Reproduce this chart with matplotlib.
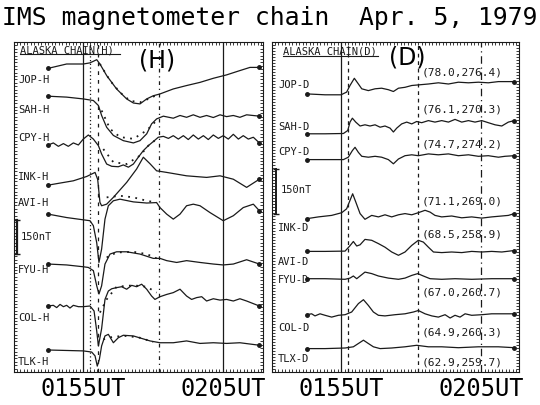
import matplotlib
matplotlib.use('Agg')
import matplotlib.pyplot as plt
from matplotlib.ticker import MultipleLocator

# time axis: minutes after 0155 UT ; values: nT deflection from the start of each trace

# ---------------- H component (left panel) ----------------
jop_h_t = [-2.48, -1.17, 0.02, 0.5, 0.98, 1.21, 1.69, 2.4, 3.12, 3.6, 4.07, 4.55, 5.02, 5.5, 6.45, 7.4, 8.36, 9.31, 10.26, 11.21, 11.93, 12.6]
jop_h_v = [0, 19, 19, 24, 38, 19, -32, -91, -135, -153, -157, -135, -121, -113, -91, -76, -62, -44, -29, -10, 4, 4]

sah_h_t = [-2.48, -1.17, 0.02, 0.74, 1.1, 1.33, 1.69, 2.17, 2.88, 3.6, 4.07, 4.55, 4.9, 5.26, 5.74, 6.45, 6.93, 7.4, 7.88, 8.36, 8.83, 9.31, 9.79, 10.26, 10.74, 11.21, 11.69, 12.6]
sah_h_v = [0, -4, -12, -19, -41, -85, -137, -173, -196, -206, -196, -166, -122, -100, -88, -97, -85, -93, -82, -93, -85, -94, -82, -90, -85, -93, -82, -88]

cpy_h_t = [-2.48, -2.12, -1.76, -1.4, -1.05, -0.69, -0.33, 0.02, 0.38, 0.74, 1.1, 1.33, 1.69, 2.05, 2.52, 2.88, 3.24, 3.6, 3.95, 4.31, 4.67, 5.02, 5.38, 5.74, 6.1, 6.45, 6.81, 7.17, 7.52, 7.88, 8.24, 8.6, 8.95, 9.31, 9.67, 10.02, 10.38, 10.74, 11.1, 11.45, 11.81, 12.17, 12.6]
cpy_h_v = [0, 9, -6, 6, -6, 9, 0, 26, 44, 26, -3, -40, -84, -94, -96, -88, -98, -84, -54, -25, -3, 15, 34, 38, 29, 41, 26, 41, 24, 44, 26, 41, 24, 44, 29, 41, 26, 47, 26, 41, 26, 34, 9]

ink_h_t = [-2.48, -1.64, -0.69, 0.26, 0.86, 1.05, 1.21, 1.33, 1.69, 2.17, 3.12, 3.83, 4.31, 4.79, 5.26, 5.98, 7.4, 8.83, 9.79, 10.74, 11.69, 12.6]
ink_h_v = [0, 9, 19, 38, 56, 25, -76, -91, -84, -54, 12, 71, 123, 94, 63, 56, 41, 34, 41, 26, -10, 26]

avi_h_t = [-2.48, -1.17, 0.02, 0.5, 0.74, 0.98, 1.14, 1.33, 1.57, 1.81, 2.17, 2.64, 3.6, 4.55, 5.26, 5.5, 5.98, 6.45, 6.93, 7.4, 7.88, 8.36, 9.07, 10.02, 10.74, 11.45, 12.17, 12.6]
avi_h_v = [0, -15, -25, -29, -51, -126, -213, -154, -22, 37, 59, 66, 54, 49, 51, 29, 0, -22, 0, 37, 44, 37, 7, -29, -7, 29, 44, 15]

fyu_h_t = [-2.48, -1.17, 0.02, 0.38, 0.74, 0.98, 1.14, 1.33, 1.57, 1.93, 2.4, 3.12, 4.07, 5.02, 5.5, 5.98, 6.69, 7.4, 8.36, 9.31, 10.02, 10.74, 11.69, 12.6]
fyu_h_v = [0, -4, -12, -15, -29, -96, -132, -96, 0, 44, 54, 54, 44, 25, 25, 15, 7, 15, 7, 0, -4, 0, 19, 0]

col_h_t = [-2.48, -2.12, -1.88, -1.64, -1.4, -1.17, -0.93, -0.69, -0.33, 0.02, 0.5, 0.79, 0.98, 1.1, 1.33, 1.57, 1.81, 2.05, 2.4, 2.76, 3.12, 3.48, 3.83, 4.19, 4.55, 4.9, 5.14, 5.5, 5.98, 6.45, 6.93, 7.4, 7.76, 8.12, 8.48, 8.83, 9.31, 9.79, 10.26, 10.74, 11.21, 11.69, 12.6]
col_h_v = [0, 3, -7, 7, -3, 3, -9, 3, -3, -3, 0, -22, -110, -176, -100, 29, 66, 76, 81, 85, 74, 91, 85, 96, 74, 44, 29, 41, 51, 59, 74, 44, 29, 37, 41, 22, 32, 26, 29, 22, 32, 22, 0]

tlk_h_t = [-2.48, 0.02, 0.62, 0.86, 1.02, 1.17, 1.33, 1.57, 1.81, 2.17, 2.52, 2.88, 3.6, 4.79, 5.5, 6.45, 7.4, 8.36, 9.31, 10.26, 11.21, 12.6]
tlk_h_v = [0, -4, -9, -26, -71, -41, 18, 62, 69, 32, 54, 65, 62, 40, 32, 32, 40, 29, 32, 29, 32, 21]

# dotted curves drawn over the H traces
jop_h_dot_t = [1.21, 1.93, 2.64, 3.36, 4.07, 4.79, 5.26]
jop_h_dot_v = [19, -54, -106, -143, -150, -132, -118]
sah_h_dot_t = [1.33, 1.93, 2.64, 3.6, 4.55, 5.26]
sah_h_dot_v = [-63, -144, -180, -188, -151, -107]
cpy_h_dot_t = [1.45, 2.17, 3.12, 4.07, 4.67, 5.26]
cpy_h_dot_v = [-18, -76, -84, -47, -3, 26]
avi_h_dot_t = [1.69, 2.64, 3.6, 4.55, 5.26]
avi_h_dot_v = [74, 81, 74, 59, 51]
fyu_h_dot_t = [1.69, 2.4, 3.6, 4.55, 5.26]
fyu_h_dot_v = [29, 51, 54, 44, 25]
col_h_dot_t = [1.21, 1.69, 2.4, 3.6, 4.55, 5.26]
col_h_dot_v = [-29, 29, 85, 91, 85, 59]
tlk_h_dot_t = [1.45, 2.17, 3.12, 4.07, 5.02]
tlk_h_dot_v = [47, 59, 62, 54, 35]

h_names = ['JOP-H', 'SAH-H', 'CPY-H', 'INK-H', 'AVI-H', 'FYU-H', 'COL-H', 'TLK-H']
h_base = [-116, -239, -454, -631, -759, -979, -1164, -1358]
h_marks = [0, 0.5, 1.1, 5.4, 10]

# ---------------- D component (right panel) ----------------
jop_d_t = [-2.45, -1.14, 0, 0.4, 0.64, 0.95, 1.24, 1.48, 1.95, 2.43, 2.9, 3.38, 3.74, 4.1, 4.57, 5.05, 5.52, 6.24, 6.95, 7.67, 8.38, 9.1, 9.81, 10.52, 11.24, 12.38]
jop_d_v = [0, -3, -3, 6, 28, 52, 33, 17, 11, 17, 19, 14, 8, 19, 22, 28, 30, 33, 37, 33, 39, 37, 39, 37, 41, 41]

sah_d_t = [-2.45, -1.14, 0.17, 0.48, 0.64, 0.81, 1.05, 1.36, 1.71, 2.07, 2.43, 2.79, 3.14, 3.5, 3.74, 3.98, 4.33, 4.69, 5.05, 5.4, 5.76, 6.24, 6.71, 7.19, 7.67, 8.14, 8.62, 9.1, 9.57, 10.05, 10.52, 11.0, 11.48, 11.95, 12.38]
sah_d_v = [0, 0, 1, 11, 39, 52, 39, 26, 30, 26, 30, 22, 26, 19, 6, 19, 33, 39, 33, 41, 37, 44, 39, 44, 39, 48, 39, 44, 39, 44, 37, 30, 26, 39, 44]

cpy_d_t = [-2.45, -1.14, 0.17, 0.52, 0.81, 1.0, 1.24, 1.48, 1.95, 2.43, 2.9, 3.38, 3.74, 4.1, 4.57, 5.05, 5.52, 6.24, 6.95, 7.67, 8.38, 9.1, 9.81, 10.52, 11.24, 11.71, 12.38]
cpy_d_v = [0, 0, 0, 8, 30, 41, 24, 11, 8, 11, 8, 0, -14, 2, 13, 16, 13, 19, 16, 19, 13, 16, 11, 13, 8, 11, 13]

ink_d_t = [-2.45, -1.62, -0.67, 0.05, 0.4, 0.64, 0.83, 1.05, 1.36, 1.71, 2.19, 2.67, 3.14, 3.62, 4.1, 4.57, 5.05, 5.52, 6.0, 6.36, 6.71, 7.19, 7.9, 8.62, 9.33, 10.05, 10.76, 11.48, 11.95, 12.38]
ink_d_v = [0, 6, 11, 20, 33, 61, 83, 56, 17, -2, 11, 6, 13, 6, 13, 17, 13, 20, 28, 22, 11, 6, 9, 3, 6, 2, 6, 9, 11, 17]

avi_d_t = [-2.45, -1.14, 0.29, 0.64, 0.88, 1.12, 1.36, 1.71, 2.19, 2.67, 3.14, 3.62, 4.1, 4.57, 5.05, 5.52, 5.88, 6.24, 6.6, 7.19, 7.9, 8.62, 9.33, 10.05, 10.76, 11.48, 12.38]
avi_d_v = [0, 0, 1, 19, 33, 18, 22, 40, 37, 26, 14, -2, -13, -2, 20, 37, 31, 14, -2, -4, -2, -4, 0, -2, 0, -2, 3]

fyu_d_t = [-2.45, -1.14, 0.29, 0.64, 0.88, 1.12, 1.36, 1.71, 2.19, 2.67, 3.38, 4.1, 4.57, 5.05, 5.48, 5.88, 6.36, 7.19, 8.14, 9.33, 10.76, 12.38]
fyu_d_v = [0, 0, -2, 2, 9, 0, 9, 22, 17, 9, 2, -2, 2, 11, 17, 9, 0, -2, 0, -2, 0, 0]

col_d_t = [-2.45, -2.1, -1.86, -1.5, -1.14, -0.67, -0.19, 0.29, 0.76, 1.24, 1.6, 1.95, 2.31, 2.67, 3.14, 3.86, 4.57, 5.17, 5.52, 6.0, 6.48, 6.95, 7.43, 7.79, 8.14, 8.5, 8.86, 9.33, 10.05, 10.76, 11.48, 12.38]
col_d_v = [0, 3, -4, 3, -2, -8, -2, 0, 9, 37, 50, 31, 9, -2, -4, 0, 3, 9, 14, 3, -4, -8, 0, -11, -2, -8, 3, -2, 0, 3, 3, 3]

tlx_d_t = [-2.45, -1.14, 0.29, 0.88, 1.24, 1.6, 1.95, 2.31, 2.79, 3.62, 4.57, 5.4, 6.24, 7.19, 8.38, 9.81, 11.24, 12.38]
tlx_d_v = [0, 0, 2, 6, 17, 28, 17, 6, 0, 2, 6, 11, 6, 6, 3, 6, 6, 3]

d_names = ['JOP-D', 'SAH-D', 'CPY-D', 'INK-D', 'AVI-D', 'FYU-D', 'COL-D', 'TLX-D']
d_base = [-173, -306, -392, -589, -698, -789, -909, -1022]
d_coords = ['(78.0,276.4)', '(76.1,270.3)', '(74.7,274.2)', '(71.1,269.0)',
            '(68.5,258.9)', '(67.0,260.7)', '(64.9,260.3)', '(62.9,259.7)']
d_marks = [0, 0.5, 5.5, 10]

time_labels = ['0155UT', '0205UT']

# ---------------- layout (not data) ----------------
h_label_y = [-163, -295, -419, -591, -706, -1001, -1213, -1407]
d_label_y = [-140, -280, -363, -616, -729, -789, -949, -1052]
d_coord_y = [-97, -223, -340, -529, -639, -833, -966, -1066]

MONO = 'DejaVu Sans Mono'
INK = '#1a1a1a'

fig = plt.figure(figsize=(5.4, 4.06), dpi=100)
fig.patch.set_facecolor('white')

ax_h = fig.add_axes([14 / 540, 1 - 373 / 406, 249 / 540, 330 / 406])
ax_d = fig.add_axes([272 / 540, 1 - 373 / 406, 247 / 540, 330 / 406])
ax_h.set_xlim(-4.93, 12.86)
ax_h.set_ylim(-1455, 0)
ax_d.set_xlim(-4.93, 12.71)
ax_d.set_ylim(-1100, 0)


def ruler(ax, ystep):
    # ruler-like frame with little ticks all round
    ax.set_xticks([0, 10], time_labels)
    ax.set_yticks([])
    ax.xaxis.set_minor_locator(MultipleLocator(0.25))
    ax.yaxis.set_minor_locator(MultipleLocator(ystep))
    ax.tick_params(which='minor', direction='in', length=2.2, width=0.6,
                   top=True, bottom=True, left=True, right=True, color=INK)
    ax.tick_params(which='major', length=0, pad=3, labelsize=17, labelcolor='black')
    for lab in ax.get_xticklabels():
        lab.set_family(MONO)
    for sp in ax.spines.values():
        sp.set_linewidth(0.8)
        sp.set_color(INK)


ruler(ax_h, 15)
ruler(ax_d, 10)

# time marker lines
h_styles = ['-', (0, (1, 2)), (0, (3, 4)), (0, (3, 3, 1, 3)), '-']
for t, ls in zip(h_marks, h_styles):
    ax_h.axvline(t, color=INK, lw=0.9, ls=ls, zorder=1)
d_styles = ['-', (0, (3, 3)), (0, (3, 3)), (0, (6, 3, 1, 3))]
for t, ls in zip(d_marks, d_styles):
    ax_d.axvline(t, color=INK, lw=0.9, ls=ls, zorder=1)

h_traces = [(jop_h_t, jop_h_v), (sah_h_t, sah_h_v), (cpy_h_t, cpy_h_v), (ink_h_t, ink_h_v),
            (avi_h_t, avi_h_v), (fyu_h_t, fyu_h_v), (col_h_t, col_h_v), (tlk_h_t, tlk_h_v)]
h_dots = [(jop_h_dot_t, jop_h_dot_v, 0), (sah_h_dot_t, sah_h_dot_v, 1), (cpy_h_dot_t, cpy_h_dot_v, 2),
          (avi_h_dot_t, avi_h_dot_v, 4), (fyu_h_dot_t, fyu_h_dot_v, 5), (col_h_dot_t, col_h_dot_v, 6),
          (tlk_h_dot_t, tlk_h_dot_v, 7)]
d_traces = [(jop_d_t, jop_d_v), (sah_d_t, sah_d_v), (cpy_d_t, cpy_d_v), (ink_d_t, ink_d_v),
            (avi_d_t, avi_d_v), (fyu_d_t, fyu_d_v), (col_d_t, col_d_v), (tlx_d_t, tlx_d_v)]


def draw_traces(ax, traces, base):
    for (t, v), b in zip(traces, base):
        y = [b + val for val in v]
        ax.plot(t, y, color=INK, lw=0.9, zorder=3)
        ax.plot([t[0], t[-1]], [y[0], y[-1]], 'o', color=INK, ms=2.5, zorder=4)


draw_traces(ax_h, h_traces, h_base)
draw_traces(ax_d, d_traces, d_base)

for t, v, i in h_dots:
    ax_h.plot(t, [h_base[i] + val for val in v], color=INK, lw=1.3, ls=(0, (1, 3)), zorder=3)

# station names
for name, y in zip(h_names, h_label_y):
    ax_h.text(-4.64, y, name, family=MONO, fontsize=7.5, va='center', ha='left', color=INK)
for name, y in zip(d_names, d_label_y):
    ax_d.text(-4.5, y, name, family=MONO, fontsize=7.5, va='center', ha='left', color=INK)
for c, y in zip(d_coords, d_coord_y):
    ax_d.text(5.75, y, c, family=MONO, fontsize=8, va='center', ha='left', color=INK)

# panel headings
ax_h.text(-4.5, -31, 'ALASKA CHAIN(H)', family=MONO, fontsize=7.5, va='center', ha='left', color=INK)
ax_h.plot([-4.5, 2.64], [-55, -55], color=INK, lw=0.8)
ax_h.text(5.3, -75, '(H)', fontsize=17, va='center', ha='center')
ax_d.text(-4.14, -30, 'ALASKA CHAIN(D)', family=MONO, fontsize=7.5, va='center', ha='left', color=INK)
ax_d.plot([-4.14, 2.64], [-47, -47], color=INK, lw=0.8)
ax_d.text(4.71, -50, '(D)', fontsize=17, va='center', ha='center')

# 150 nT scale bars
ax_h.plot([-4.75, -4.75], [-785, -935], color=INK, lw=1.6, marker='_', ms=4)
ax_h.text(-4.45, -856, '150nT', family=MONO, fontsize=7.5, va='center', ha='left', color=INK)
ax_d.plot([-4.64, -4.64], [-423, -573], color=INK, lw=1.4, marker='_', ms=4)
ax_d.text(-4.3, -490, '150nT', family=MONO, fontsize=7.5, va='center', ha='left', color=INK)

fig.text(0.5, 1 - 18 / 406, 'IMS magnetometer chain  Apr. 5, 1979', family=MONO,
         fontsize=17.8, ha='center', va='center')

fig.savefig('out.png', dpi=100)
